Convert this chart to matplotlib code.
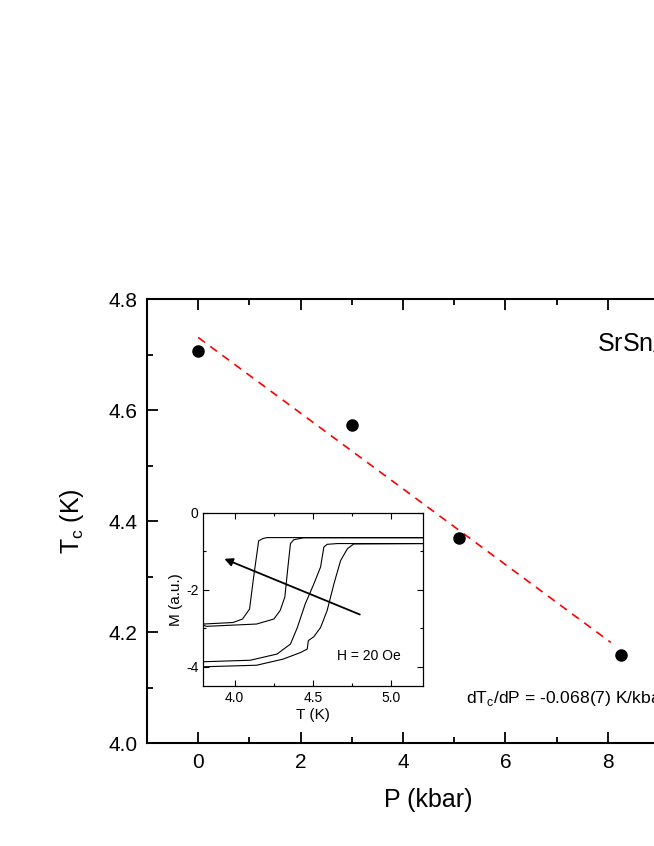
import numpy as np
import matplotlib
matplotlib.use("Agg")
import matplotlib.pyplot as plt
from matplotlib.ticker import MultipleLocator

plt.rcParams['font.family'] = ['Liberation Sans', 'DejaVu Sans']

# Tc vs pressure
pressure = [0.0, 3.01, 5.10, 8.26]
tc = [4.706, 4.573, 4.369, 4.159]

# inset M(T) curves, one per pressure
m_curves = [
    ([3.80, 3.99, 4.05, 4.095, 4.12, 4.153, 4.18, 4.206, 5.20],
     [-2.89, -2.85, -2.76, -2.50, -1.70, -0.73, -0.67, -0.645, -0.645]),
    ([3.80, 3.82, 4.14, 4.25, 4.29, 4.32, 4.34, 4.356, 4.377, 4.44, 5.20],
     [-2.92, -2.95, -2.89, -2.76, -2.54, -2.19, -1.40, -0.80, -0.70, -0.65, -0.65]),
    ([3.80, 4.10, 4.27, 4.356, 4.40, 4.45, 4.505, 4.548, 4.569, 4.59, 4.655, 5.20],
     [-3.87, -3.83, -3.67, -3.41, -2.98, -2.37, -1.85, -1.41, -0.89, -0.82, -0.80, -0.80]),
    ([3.80, 4.14, 4.31, 4.42, 4.463, 4.47, 4.505, 4.548, 4.59, 4.633, 4.676, 4.72, 4.76, 5.20],
     [-4.00, -3.96, -3.80, -3.63, -3.54, -3.32, -3.22, -2.98, -2.54, -1.85, -1.24, -0.93, -0.81, -0.80]),
]

fig = plt.figure(figsize=(6.54, 8.46), dpi=100)
ax = fig.add_axes([0.2248, 0.1217, 0.861, 0.5248])

ax.plot(pressure, tc, 'o', color='black', markersize=8, zorder=3)

# linear fit
slope, icpt = np.polyfit(pressure, tc, 1)
pf = np.array([0.0, 8.06])
ax.plot(pf, icpt + slope * pf, '--', color='red', lw=1.2, dashes=(5, 4))

ax.set_xlim(-1, 10)
ax.set_ylim(4.0, 4.8)
ax.xaxis.set_major_locator(MultipleLocator(2))
ax.xaxis.set_minor_locator(MultipleLocator(1))
ax.yaxis.set_major_locator(MultipleLocator(0.2))
ax.yaxis.set_minor_locator(MultipleLocator(0.1))
ax.tick_params(which='both', direction='in', top=True, right=True, width=1.3,
               labelsize=15, pad=7)
ax.tick_params(which='major', length=8)
ax.tick_params(which='minor', length=4)
for s in ax.spines.values():
    s.set_linewidth(1.5)
ax.set_xlabel('P (kbar)', fontsize=18, labelpad=12)
ax.set_ylabel(r'T$_\mathregular{c}$ (K)', fontsize=18, labelpad=16)
ax.yaxis.set_major_formatter(matplotlib.ticker.FormatStrFormatter('%.1f'))

ax.text(7.79, 4.717, r'SrSn$_\mathregular{4}$', fontsize=18, va='center', ha='left')
ax.text(5.23, 4.081, r'dT$_\mathregular{c}$/dP = -0.068(7) K/kbar', fontsize=12.6,
        va='center', ha='left')

# inset
ins = fig.add_axes([0.3109, 0.1891, 0.3355, 0.2048])
for tx, my in m_curves:
    ins.plot(tx, my, color='black', lw=0.8)
ins.annotate('', xy=(3.918, -1.17), xytext=(4.815, -2.67),
             arrowprops=dict(arrowstyle='-|>', color='black', lw=1.3,
                             mutation_scale=12))
ins.text(4.65, -3.73, 'H = 20 Oe', fontsize=10, va='center', ha='left')
ins.set_xlim(3.8, 5.2)
ins.set_ylim(-4.5, 0)
ins.xaxis.set_major_locator(MultipleLocator(0.5))
ins.xaxis.set_minor_locator(MultipleLocator(0.25))
ins.yaxis.set_major_locator(MultipleLocator(2))
ins.yaxis.set_minor_locator(MultipleLocator(1))
ins.yaxis.set_major_formatter(matplotlib.ticker.FuncFormatter(lambda v, p: '%d' % v))
ins.tick_params(which='both', direction='in', top=True, right=True, labelsize=10,
                width=0.8)
ins.tick_params(which='major', length=4)
ins.tick_params(which='minor', length=2.5)
for s in ins.spines.values():
    s.set_linewidth(0.9)
ins.set_xlabel('T (K)', fontsize=11, labelpad=2)
ins.set_ylabel('M (a.u.)', fontsize=11, labelpad=2)

fig.savefig('out.png', dpi=100)
